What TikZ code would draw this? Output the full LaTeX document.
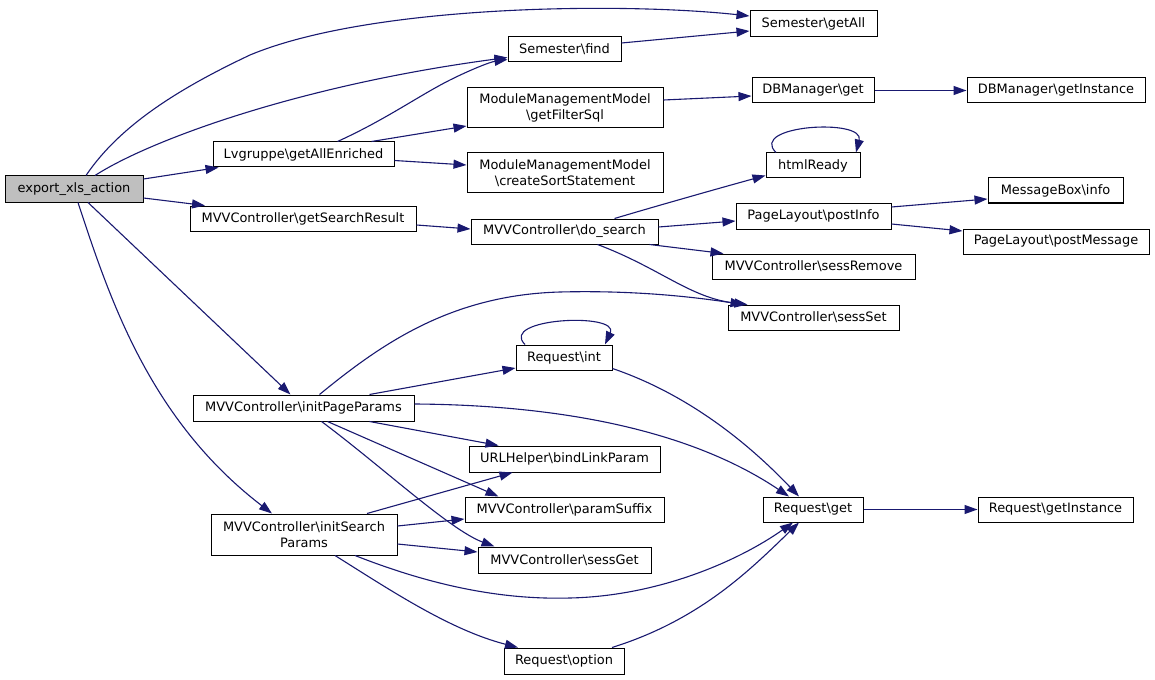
\documentclass[tikz,border=0pt]{standalone}
\usepackage{fontspec}
\setmainfont{DejaVu Sans}
\usetikzlibrary{arrows.meta}
\definecolor{edgeblue}{HTML}{191970}
\definecolor{rootgray}{HTML}{BFBFBF}
\tikzset{
  box/.style={draw=black, line width=1bp, fill=white, inner sep=0pt, align=center,
    font=\fontsize{13}{16.5}\selectfont},
  rootbox/.style={box, fill=rootgray},
  call/.style={draw=edgeblue, line width=1.1bp, -{Triangle[length=13bp,width=9bp]}, fill=none},
}
\newcommand\bx[7][box]{\node[#1, minimum width={(#5-#3)*1bp}, minimum height={(#6-#4)*1bp}] (#2) at ({(#3+#5)/2},{(#4+#6)/2}) {#7};}
\newcommand\bs{\textbackslash{}}
\begin{document}
\begin{tikzpicture}[x=1bp,y=-1bp]
\useasboundingbox[fill=white] (0,0) rectangle (1155,680);
% nodes
\bx[rootbox]{export}{5}{176}{143}{202}{export\_xls\_action}
\bx{getAll}{750}{11}{877}{37}{Semester\bs getAll}
\bx{find}{508}{37}{621}{62}{Semester\bs find}
\bx{enriched}{213}{142}{394}{167}{Lvgruppe\bs getAllEnriched}
\bx{searchres}{190}{206}{416}{231}{MVVController\bs getSearchResult}
\bx{filtersql}{467}{88}{663}{128}{ModuleManagementModel\\\bs getFilterSql}
\bx{sortstmt}{467}{153}{663}{193}{ModuleManagementModel\\\bs createSortStatement}
\bx{dosearch}{471}{219}{658}{244}{MVVController\bs do\_search}
\bx{dbget}{752}{78}{874}{103}{DBManager\bs get}
\bx{dbinst}{967}{78}{1145}{103}{DBManager\bs getInstance}
\bx{html}{766}{153}{860}{178}{htmlReady}
\bx{postinfo}{736}{203}{891}{229}{PageLayout\bs postInfo}
\bx{msginfo}{988}{178}{1123}{203}{MessageBox\bs info}
\bx{postmsg}{963}{229}{1149}{254}{PageLayout\bs postMessage}
\bx{sessrem}{712}{254}{915}{279}{MVVController\bs sessRemove}
\bx{sessset}{728}{305}{899}{330}{MVVController\bs sessSet}
\bx{rint}{516}{345}{612}{370}{Request\bs int}
\bx{initpage}{193}{395}{414}{421}{MVVController\bs initPageParams}
\bx{bindlink}{469}{446}{660}{472}{URLHelper\bs bindLinkParam}
\bx{suffix}{465}{497}{664}{522}{MVVController\bs paramSuffix}
\bx{sessget}{478}{547}{651}{573}{MVVController\bs sessGet}
\bx{initsearch}{211}{514}{397}{555}{MVVController\bs initSearch\\Params}
\bx{roption}{504}{648}{624}{674}{Request\bs option}
\bx{rget}{763}{497}{863}{522}{Request\bs get}
\bx{rinst}{978}{497}{1133}{522}{Request\bs getInstance}
% edges from export
\draw[call] ([xshift=12bp]export.north) .. controls (120,125) and (180,88) .. (250,55)
  .. controls (370,5) and (620,2) .. ([yshift=8bp]getAll.west);
\draw[call] ([xshift=21bp]export.north) .. controls (150,140) and (300,85) .. ([yshift=-8bp]find.west);
\draw[call] ([yshift=10bp]export.east) -- ([xshift=-85bp]enriched.south);
\draw[call] ([yshift=-9bp]export.east) -- ([xshift=-98bp]searchres.north);
\draw[call] ([xshift=14bp]export.south) -- ([xshift=-13bp]initpage.north);
\draw[call] ([xshift=4bp]export.south) .. controls (110,300) and (150,420) .. ([xshift=-32bp]initsearch.north);
% from getAllEnriched
\draw[call] ([xshift=34bp]enriched.north) .. controls (385,120) and (420,95) .. (450,80)
  .. controls (470,70) and (490,62) .. ([yshift=-10bp]find.west);
\draw[call] ([xshift=68bp]enriched.north) -- ([yshift=-18bp]filtersql.west);
\draw[call] ([yshift=-6bp]enriched.east) -- ([yshift=8bp]sortstmt.west);
% others top
\draw[call] ([yshift=6.5bp]find.east) -- ([yshift=-7bp]getAll.west);
\draw[call] ([yshift=8bp]filtersql.east) -- ([yshift=-5.5bp]dbget.west);
\draw[call] (dbget.east) -- (dbinst.west);
\draw[call] ([yshift=-6.5bp]searchres.east) -- ([yshift=2.5bp]dosearch.west);
\draw[call] ([xshift=50bp]dosearch.north) .. controls (660,205) and (720,188) .. ([yshift=-10bp]html.west);
\draw[call] ([yshift=4.5bp]dosearch.east) -- ([yshift=-5bp]postinfo.west);
\draw[call] ([xshift=85bp]dosearch.south) -- ([xshift=-90bp]sessrem.north);
\draw[call] ([xshift=33bp]dosearch.south) .. controls (660,268) and (690,298) .. ([xshift=-66bp]sessset.north);
\draw[call] ([yshift=9bp]postinfo.east) -- ([yshift=-8.5bp]msginfo.west);
\draw[call] ([yshift=-8bp]postinfo.east) -- ([yshift=10.5bp]postmsg.west);
\draw[call] ([xshift=-37bp]html.north) .. controls (748,125) and (865,118) .. ([xshift=43bp]html.north);
% lower part
\draw[call] ([xshift=-39bp]rint.north) .. controls (498,318) and (620,312) .. ([xshift=41bp]rint.north);
\draw[call] ([xshift=16bp]initpage.north) .. controls (380,345) and (450,295) .. (560,292)
  .. controls (640,290) and (700,298) .. ([xshift=-70bp]sessset.north);
\draw[call] ([xshift=66bp]initpage.north) -- ([yshift=-10.5bp]rint.west);
\draw[call] ([yshift=4bp]initpage.east) .. controls (560,405) and (690,430) .. ([xshift=-24bp]rget.north);
\draw[call] ([xshift=66bp]initpage.south) -- ([xshift=-66bp]bindlink.north);
\draw[call] ([xshift=24bp]initpage.south) -- ([xshift=-66bp]suffix.north);
\draw[call] ([xshift=18bp]initpage.south) .. controls (380,465) and (450,530) .. ([xshift=-70bp]sessget.north);
\draw[call] ([xshift=63bp]initsearch.north) -- ([xshift=-52bp]bindlink.south);
\draw[call] ([yshift=8.5bp]initsearch.east) -- ([yshift=-9.5bp]suffix.west);
\draw[call] ([yshift=-9.5bp]initsearch.east) -- ([yshift=8bp]sessget.west);
\draw[call] ([xshift=51bp]initsearch.south) .. controls (430,585) and (500,600) .. (570,598)
  .. controls (660,596) and (740,560) .. ([xshift=-20bp]rget.south);
\draw[call] ([xshift=31bp]initsearch.south) .. controls (390,590) and (450,630) .. ([xshift=-46bp]roption.north);
\draw[call] ([yshift=-11bp]rint.east) .. controls (690,395) and (750,445) .. ([xshift=-14bp]rget.north);
\draw[call] ([xshift=48bp]roption.north) .. controls (700,620) and (750,570) .. ([xshift=-14bp]rget.south);
\draw[call] (rget.east) -- (rinst.west);
\end{tikzpicture}
\end{document}
